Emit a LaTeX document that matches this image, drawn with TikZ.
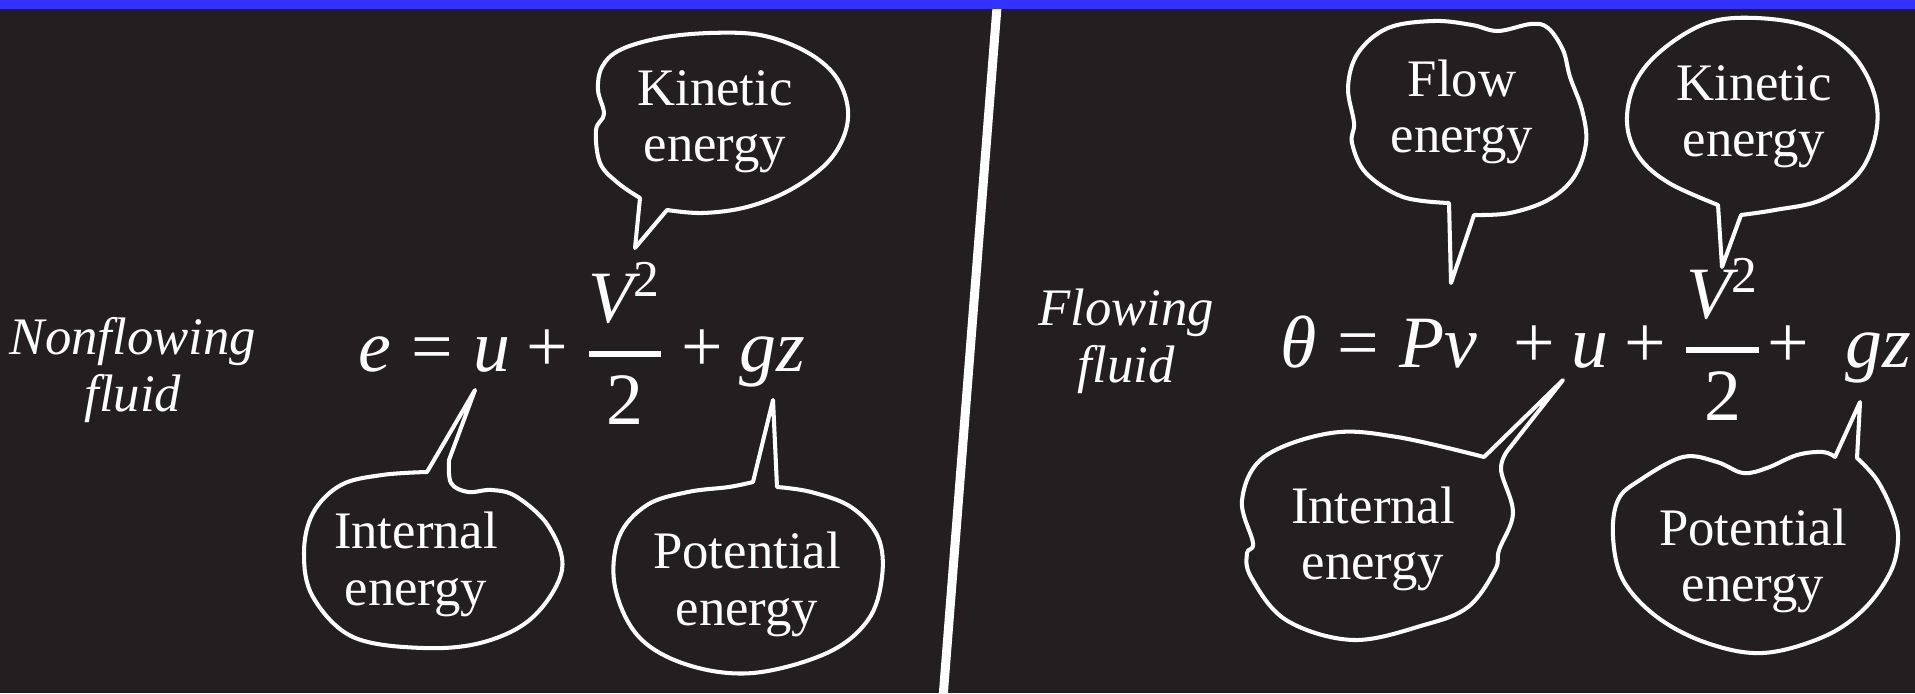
\documentclass[tikz,border=0pt]{standalone}
\usepackage{amsmath}
\usepackage{fontspec}
\setmainfont{Liberation Serif}
\definecolor{board}{RGB}{35,31,32}
\definecolor{band}{RGB}{51,51,255}
\newcommand{\eqrel}{\mathrel{\textrm{=}}}
\newcommand{\eqplus}{\mathbin{\textrm{+}}}
\newcommand{\halfvsq}{\genfrac{}{}{1.8pt}{0}{\mathit{V}^{\textrm{2}}}{\textrm{2}}}

\begin{document}
\begin{tikzpicture}[scale=1.0,
		bubble/.style={white, line width=1.15pt, line join=round},
		label/.style={white, align=center, anchor=base, font=\fontsize{15}{16.2}\selectfont},
		side/.style={white, align=center, anchor=base, font=\fontsize{15}{16.3}\selectfont\itshape},
		eqn/.style={white, anchor=base west, inner sep=0pt, font=\fontsize{21}{25}\selectfont}]
		% board and top band
		\useasboundingbox (0, 0) rectangle (19.15, 6.93);
		\fill [board] (0, 0) rectangle (19.15, 6.93);
		\draw [white, line width=0.09cm] (9.97, 6.86) -- (9.43, -0.05);
		\fill [band] (0, 6.84) rectangle (19.15, 6.93);

		% left half: nonflowing fluid (labels anchored at the last line)
		\node [side] (nonflow) at (1.33, 2.81) {Nonflowing\\fluid};
		\node [eqn] (eqleft) at (3.58, 3.21)
			{$\mathit{e} \eqrel \mathit{u} \eqplus \halfvsq \eqplus \mathit{gz}$};

		\coordinate (tipkinL) at (6.35, 4.45);
		\coordinate (tipintL) at (4.75, 3.03);
		\coordinate (tippotL) at (7.73, 2.93);

		\draw [bubble] plot [smooth, tension=0.6] coordinates {(6.67, 4.83) (7.03, 4.80) (7.47, 4.86)
			(7.90, 5.03) (8.27, 5.30) (8.45, 5.60) (8.47, 5.90) (8.33, 6.20) (8.03, 6.43) (7.60, 6.58)
			(7.10, 6.60) (6.60, 6.55) (6.20, 6.43) (6.02, 6.26) (5.98, 6.03) (6.04, 5.79) (5.96, 5.63)
			(6.00, 5.30) (6.18, 5.10) (6.40, 4.95)} -- (tipkinL) -- cycle;
		\node [label] (kinL) at (7.15, 5.31) {Kinetic\\energy};

		\draw [bubble] plot [smooth, tension=0.6] coordinates {(4.49, 2.33) (4.51, 2.10) (4.68, 2.01)
			(4.92, 2.03) (5.17, 1.96) (5.49, 1.66) (5.62, 1.23) (5.33, 0.76) (4.84, 0.51) (4.23, 0.45)
			(3.53, 0.56) (3.13, 0.96) (3.04, 1.40) (3.13, 1.80) (3.41, 2.08) (3.82, 2.18)
			(4.27, 2.21)} -- (tipintL) -- cycle;
		\node [label] (intL) at (4.16, 0.88) {Internal\\energy};

		\draw [bubble] plot [smooth, tension=0.6] coordinates {(7.77, 2.06) (8.11, 2.01) (8.51, 1.86)
			(8.78, 1.56) (8.82, 1.16) (8.68, 0.73) (8.27, 0.40) (7.53, 0.20) (6.88, 0.28) (6.39, 0.56)
			(6.15, 1.06) (6.19, 1.56) (6.47, 1.88) (6.88, 2.01) (7.29, 2.06)
			(7.53, 2.11)} -- (tippotL) -- cycle;
		\node [label] (potL) at (7.47, 0.68) {Potential\\energy};

		% right half: flowing fluid
		\node [side] (flow) at (11.26, 3.10) {Flowing\\fluid};
		\node [eqn] (eqright) at (12.80, 3.25)
			{$\textit{θ} \eqrel \mathit{P}\textit{ν}\; \eqplus \mathit{u} \eqplus \halfvsq\!\eqplus\; \mathit{gz}$};

		\coordinate (tipflowR) at (14.51, 4.10);
		\coordinate (tipkinR) at (17.22, 4.26);
		\coordinate (tipintR) at (15.63, 3.13);
		\coordinate (tippotR) at (18.60, 2.91);

		\draw [bubble] plot [smooth, tension=0.6] coordinates {(14.74, 4.78) (15.10, 4.80) (15.48, 4.93)
			(15.74, 5.16) (15.86, 5.50) (15.82, 5.83) (15.70, 6.16) (15.63, 6.43) (15.48, 6.65)
			(15.31, 6.69) (14.98, 6.62) (14.72, 6.68) (14.34, 6.72) (13.88, 6.65) (13.58, 6.40)
			(13.48, 6.06) (13.54, 5.70) (13.52, 5.50) (13.66, 5.20) (14.03, 4.96)
			(14.49, 4.90)} -- (tipflowR) -- cycle;
		\node [label] (flowR) at (14.62, 5.40) {Flow\\energy};

		\draw [bubble] plot [smooth, tension=0.6] coordinates {(17.41, 4.78) (17.75, 4.83) (18.21, 4.93)
			(18.59, 5.20) (18.76, 5.60) (18.74, 6.00) (18.51, 6.40) (18.10, 6.66) (17.56, 6.75)
			(17.07, 6.70) (16.62, 6.43) (16.35, 6.10) (16.27, 5.70) (16.39, 5.36) (16.69, 5.10)
			(17.18, 4.88)} -- (tipkinR) -- cycle;
		\node [label] (kinR) at (17.54, 5.36) {Kinetic\\energy};

		\draw [bubble] plot [smooth, tension=0.6] coordinates {(15.08, 2.43) (15.01, 2.23) (15.13, 1.80)
			(14.99, 1.43) (14.95, 1.23) (14.68, 0.86) (14.24, 0.68) (13.53, 0.53) (12.86, 0.73)
			(12.51, 1.16) (12.47, 1.40) (12.53, 1.50) (12.42, 1.93) (12.64, 2.36) (13.31, 2.60)
			(13.97, 2.56) (14.84, 2.36)} -- (tipintR) -- cycle;
		\node [label] (intR) at (13.73, 1.13) {Internal\\energy};

		\draw [bubble] plot [smooth, tension=0.6] coordinates {(18.57, 2.35) (18.77, 2.13) (18.93, 1.80)
			(18.98, 1.53) (18.90, 1.20) (18.63, 0.83) (18.23, 0.56) (17.63, 0.40) (17.07, 0.50)
			(16.57, 0.76) (16.23, 1.13) (16.13, 1.56) (16.18, 1.93) (16.40, 2.13) (16.83, 2.36)
			(17.17, 2.31) (17.43, 2.20) (17.67, 2.25) (17.97, 2.38) (18.23, 2.41)
			(18.35, 2.36)} -- (tippotR) -- cycle;
		\node [label] (potR) at (17.53, 0.91) {Potential\\energy};
	\end{tikzpicture}
\end{document}
